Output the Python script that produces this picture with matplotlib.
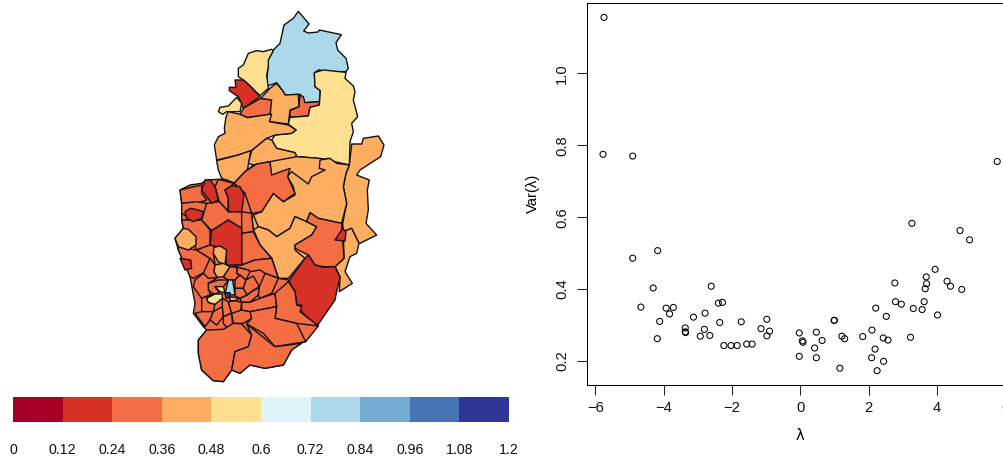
import matplotlib
matplotlib.use("Agg")
import matplotlib.pyplot as plt
from matplotlib.colors import ListedColormap, BoundaryNorm
from matplotlib.patches import Polygon
import numpy as np

plt.rcParams['font.family'] = ['Liberation Sans', 'DejaVu Sans']

# ---- data: scatter ----
lam = [-5.75,-5.78,-4.91,5.77,-4.91,-4.18,-4.31,-4.67,-3.93,-3.72,-3.83,-4.12,-4.19,-3.37,-3.37,-3.36,
       -3.13,-2.79,-2.61,-2.40,-2.28,-2.36,-2.81,-2.93,-2.65,-2.24,-2.03,-1.85,-1.57,-1.41,-1.73,-1.15,
       -0.98,-0.98,-0.90,-0.03,-0.03,0.06,0.08,0.47,0.64,0.42,0.47,1.00,0.99,1.22,1.30,1.16,1.83,2.10,
       2.19,2.09,2.25,2.44,2.43,2.57,2.52,2.21,2.77,2.79,2.96,3.23,3.31,3.57,3.63,3.66,3.70,3.69,3.95,
       4.02,4.30,4.40,4.73,4.68,4.96,3.27]
var = [1.156,0.775,0.770,0.755,0.486,0.507,0.403,0.350,0.347,0.349,0.331,0.310,0.262,0.292,0.281,0.279,
       0.322,0.333,0.408,0.361,0.363,0.307,0.288,0.269,0.271,0.243,0.243,0.243,0.247,0.247,0.309,0.290,
       0.316,0.270,0.283,0.278,0.213,0.256,0.252,0.280,0.257,0.236,0.209,0.313,0.313,0.269,0.262,0.180,
       0.268,0.286,0.233,0.209,0.173,0.199,0.264,0.258,0.324,0.347,0.417,0.365,0.358,0.266,0.346,0.343,
       0.365,0.401,0.415,0.434,0.455,0.328,0.422,0.408,0.399,0.563,0.537,0.583]

# ---- data: colour scale ----
bin_edges = [0,0.12,0.24,0.36,0.48,0.6,0.72,0.84,0.96,1.08,1.2]
edge_labels = ['0','0.12','0.24','0.36','0.48','0.6','0.72','0.84','0.96','1.08','1.2']
bin_colours = ['#A50026','#D73027','#F46D43','#FDAE61','#FEE090','#E0F3F8','#ABD9E9','#74ADD1','#4575B4','#313695']

# ---- data: map regions (value, outline) ----
north_regions = [
 (0.78,[(415,34),(447,72),(431,93),(445,99),(474,96),(478,90),(544,104),(528,128),(533,150),(558,175),(565,205),(558,215),(490,215),(478,209),(463,218),(465,260),(481,272),(478,305),(435,308),(420,283),(375,285),(370,275),(350,248),(318,260),(325,195),(320,190),(340,150),(360,130),(372,75),(400,55)]),
 (0.54,[(334,148),(340,152),(325,180),(325,200),(320,225),(325,265),(300,287),(262,250),(250,240),(235,230),(235,205),(250,195),(265,160),(290,152),(310,155)]),
 (0.18,[(225,240),(250,240),(270,258),(300,290),(250,325),(235,290),(208,272),(208,262),(228,262)]),
 (0.54,[(230,292),(245,310),(240,335),(200,335),(188,343),(175,335),(180,322),(205,318)]),
 (0.30,[(302,295),(335,300),(335,342),(262,353),(240,343),(250,325)]),
 (0.42,[(350,250),(370,275),(375,285),(415,283),(417,320),(390,330),(385,372),(328,365),(335,300),(302,295),(330,265)]),
 (0.30,[(420,285),(430,290),(435,308),(478,305),(478,315),(450,322),(445,348),(390,352),(390,332),(417,320)]),
 (0.54,[(463,218),(490,210),(558,217),(555,235),(580,258),(585,275),(580,300),(593,350),(575,370),(580,395),(570,425),(568,495),(530,490),(515,490),(505,475),(480,480),(470,475),(410,470),(405,458),(350,445),(335,420),(345,405),(395,400),(408,390),(388,375),(385,372),(390,352),(445,348),(450,322),(478,315),(481,272),(465,260)]),
 (0.42,[(205,335),(240,343),(262,353),(335,342),(328,365),(385,375),(408,390),(395,400),(345,405),(320,415),(275,452),(235,465),(170,480),(163,435),(175,410),(195,400),(193,385),(198,350)]),
 (0.42,[(170,482),(235,465),(272,452),(268,480),(260,520),(225,550),(185,535),(175,510)]),
 (0.42,[(335,420),(350,445),(405,458),(410,470),(470,475),(480,480),(475,510),(495,510),(455,520),(445,550),(430,535),(395,505),(380,525),(340,525),(330,490),(280,495),(265,490),(275,452),(320,415)]),
]
south_regions = [
 # central underlay
 (0.42,[(222,40),(255,5),(280,-15),(330,-25),(410,-40),(480,-35),(568,-15),(558,10),(550,50),(548,160),(552,265),(525,290),(385,335),(355,325),(300,225),(280,180)]),
 (0.42,[(575,-78),(605,-78),(610,-95),(655,-102),(672,-75),(662,-40),(600,0),(590,15),(628,30),(622,60),(625,120),(618,160),(650,195),(600,220),(597,220),(575,175),(550,185),(548,160),(560,100),(550,50),(558,10),(568,-15)]),
 (0.42,[(550,185),(575,175),(597,220),(590,250),(570,260),(555,305),(577,340),(538,365),(540,320),(525,290),(552,265)]),
 (0.42,[(480,-30),(510,-35),(530,-20),(568,-15),(558,10),(550,50),(560,100),(545,160),(475,145),(450,128),(440,155),(405,140),(390,175),(350,200),(325,180),(295,170),(280,135),(305,125),(340,70),(370,95),(405,75),(400,50),(382,20),(395,5),(445,42),(455,20),(495,0),(478,-5)]),
 (0.30,[(222,40),(255,5),(290,-18),(330,-25),(335,15),(390,-5),(383,20),(405,70),(370,95),(340,70),(305,125),(275,130),(255,85),(255,70)]),
 (0.42,[(280,180),(295,170),(325,180),(350,200),(390,175),(405,140),(440,155),(470,170),(455,195),(405,225),(405,240),(435,265),(385,325),(355,325),(335,265),(300,225)]),
 (0.30,[(450,128),(475,145),(545,160),(552,265),(525,290),(490,290),(465,285),(445,255),(405,235),(405,225),(455,195),(470,170),(440,155)]),
 (0.18,[(445,255),(465,285),(490,292),(525,290),(540,322),(530,365),(525,390),(470,470),(420,420),(425,405),(410,405),(405,365),(385,335),(435,265)]),
 (0.18,[(525,210),(548,175),(558,185),(555,213)]),
 # western / southern base
 (0.30,[(60,60),(90,45),(125,40),(140,30),(175,28),(200,30),(222,40),(255,70),(275,130),(280,180),(300,225),(335,265),(355,325),(385,330),(405,365),(410,405),(425,410),(420,425),(475,468),(437,515),(420,520),(395,540),(370,585),(315,595),(270,585),(240,610),(215,600),(190,635),(160,632),(125,600),(115,550),(115,510),(140,480),(130,470),(100,430),(105,400),(90,320),(85,305),(55,240),(45,205),(70,175),(65,150),(65,100)]),
 (0.30,[(60,60),(125,45),(125,70),(140,90),(110,100),(65,100)]),
 (0.30,[(65,100),(110,95),(140,100),(130,150),(100,150),(65,130)]),
 (0.30,[(65,150),(100,150),(125,150),(150,180),(150,225),(110,240),(85,190),(70,175)]),
 (0.30,[(55,230),(75,235),(110,240),(150,265),(145,300),(100,325),(90,320),(55,240)]),
 (0.30,[(175,28),(222,40),(210,50),(195,60),(205,85),(205,125),(178,95),(165,50)]),
 (0.30,[(140,100),(178,95),(205,125),(245,125),(245,175),(205,150),(155,182),(125,150)]),
 (0.30,[(245,125),(275,130),(280,185),(245,190)]),
 (0.30,[(245,190),(280,185),(300,225),(335,265),(285,270),(245,285)]),
 (0.30,[(110,240),(150,225),(170,230),(160,250),(165,285),(150,265)]),
 (0.30,[(245,285),(285,270),(335,265),(355,325),(315,310),(300,300),(270,305),(265,300),(232,292),(210,290)]),
 (0.30,[(105,330),(130,310),(170,325),(145,340),(150,375),(125,385),(100,350)]),
 (0.30,[(150,265),(165,285),(162,305),(172,322),(145,325),(130,310)]),
 (0.30,[(145,340),(175,330),(205,330),(190,350),(165,350),(178,368),(160,372),(145,360)]),
 (0.30,[(190,320),(210,290),(232,292),(230,310),(240,315),(225,330),(205,330)]),
 (0.30,[(232,292),(265,300),(270,305),(258,330),(240,315),(230,310)]),
 (0.30,[(225,330),(240,315),(258,330),(250,355),(225,355)]),
 (0.30,[(225,355),(250,355),(262,375),(240,385),(225,378)]),
 (0.30,[(258,330),(280,318),(298,350),(275,365),(262,375),(250,355)]),
 (0.30,[(262,375),(275,365),(298,352),(295,375),(270,397),(245,397),(240,385)]),
 (0.30,[(298,350),(315,310),(355,325),(335,370),(300,385),(295,375)]),
 (0.30,[(125,385),(150,375),(160,372),(140,385),(145,397),(165,403),(160,425),(125,425)]),
 (0.30,[(105,430),(125,425),(160,425),(150,450),(135,470)]),
 (0.30,[(160,425),(187,410),(190,440),(170,465),(150,450)]),
 (0.30,[(187,385),(205,395),(215,430),(190,440),(187,410)]),
 (0.30,[(205,395),(225,392),(245,397),(240,440),(215,430)]),
 (0.30,[(190,440),(215,430),(218,465),(205,478),(190,460)]),
 (0.30,[(215,430),(245,420),(272,425),(275,445),(250,460),(220,460)]),
 (0.30,[(245,397),(270,397),(300,385),(345,370),(350,410),(272,425),(245,420)]),
 (0.30,[(345,370),(385,335),(405,365),(410,405),(425,410),(420,425),(475,468),(410,460),(345,445),(350,410)]),
 (0.30,[(270,425),(350,410),(345,445),(410,460),(437,515),(345,530),(310,490),(260,462),(275,445)]),
 (0.30,[(140,480),(190,478),(220,460),(245,462),(275,495),(265,530),(225,545),(215,600),(190,635),(160,632),(125,600),(115,550),(115,510)]),
 (0.30,[(225,545),(265,530),(275,495),(260,462),(345,530),(425,520),(395,540),(370,585),(315,595),(270,585),(240,610),(215,600)]),
 # hot and cold spots
 (0.42,[(70,175),(85,178),(108,200),(108,225),(85,240),(55,230),(45,205)]),
 (0.18,[(75,125),(92,115),(115,120),(130,125),(125,145),(100,155),(80,145)]),
 (0.18,[(135,30),(150,30),(165,50),(175,90),(155,100),(140,80),(125,60)]),
 (0.18,[(195,60),(215,47),(240,50),(252,75),(245,125),(205,125),(205,85)]),
 (0.18,[(155,182),(205,150),(245,175),(245,285),(200,285),(195,240),(170,230),(150,225)]),
 (0.18,[(60,265),(92,270),(95,295),(75,300)]),
 (0.42,[(162,232),(180,228),(200,240),(195,285),(175,275),(160,250)]),
 (0.42,[(165,285),(190,280),(210,290),(190,320),(172,322),(162,305)]),
 (0.78,[(205,330),(218,330),(225,375),(195,372)]),
 (1.15,[(195,368),(210,368),(210,382),(198,385)]),
 (0.54,[(165,350),(190,350),(195,368),(180,365)]),
 (0.54,[(140,385),(165,372),(187,372),(187,385),(165,403),(145,397)]),
 (0.42,[(210,380),(240,385),(225,392),(210,392)]),
]

W, H = 1004, 459
fig = plt.figure(figsize=(W/100, H/100), dpi=100)

# map
cmap = ListedColormap(bin_colours)
norm = BoundaryNorm(bin_edges, cmap.N)
ax_map = fig.add_axes([0, 0, 1, 1])
ax_map.set_xlim(0, W); ax_map.set_ylim(H, 0); ax_map.axis('off')

def add_regions(regions, x0, y0):
    for value, outline in regions:
        pts = [(x0 + x/3, y0 + y/3) for x, y in outline]
        ax_map.add_patch(Polygon(pts, closed=True, facecolor=cmap(norm(value)),
                                 edgecolor='#111111', linewidth=1.0, joinstyle='round'))

add_regions(north_regions, 160, 0)
add_regions(south_regions, 160, 170)

# colour bar
ax_bar = fig.add_axes([13/W, 1-422/H, 496/W, 25/H])
ax_bar.pcolormesh(bin_edges, [0, 1], np.array([[(a+b)/2 for a, b in zip(bin_edges[:-1], bin_edges[1:])]]),
                  cmap=cmap, norm=norm)
ax_bar.set_xlim(0, 1.2); ax_bar.set_yticks([])
ax_bar.set_xticks(bin_edges, edge_labels, fontsize=10.2, color='#111111')
ax_bar.tick_params(axis='x', length=0, pad=15)
for s in ax_bar.spines.values():
    s.set_visible(False)

# scatter
left, right, top, bottom = 587.3, 1030, 3, 384.7
ax = fig.add_axes([left/W, 1-bottom/H, (right-left)/W, (bottom-top)/H])
ax.scatter(lam, var, s=19, facecolor='none', edgecolor='black', linewidth=0.75, clip_on=False)
ax.set_xlim(-6.24, 6.73); ax.set_ylim(0.134, 1.196)
ax.set_xticks([-6,-4,-2,0,2,4,6], ['\u22126','\u22124','\u22122','0','2','4','6'])
ax.set_yticks([0.2,0.4,0.6,0.8,1.0], ['0.2','0.4','0.6','0.8','1.0'])
ax.tick_params(axis='both', length=7, width=0.75, labelsize=10.6, color='#222222', labelcolor='#111111')
ax.tick_params(axis='x', pad=5)
ax.tick_params(axis='y', pad=6)
for lab in ax.get_yticklabels():
    lab.set_rotation(90); lab.set_va('center')
for s in ax.spines.values():
    s.set_linewidth(0.75)
ax.set_xlabel('\u03bb', fontsize=10.6, family=['DejaVu Sans'])
ax.xaxis.set_label_coords((800.3-left)/(right-left), -(436-bottom)/(bottom-top), transform=ax.transAxes)
ax.xaxis.label.set_va('center')
ax.set_ylabel('Var(\u03bb)', fontsize=10.6, labelpad=11)

fig.savefig('out.png', dpi=100)
